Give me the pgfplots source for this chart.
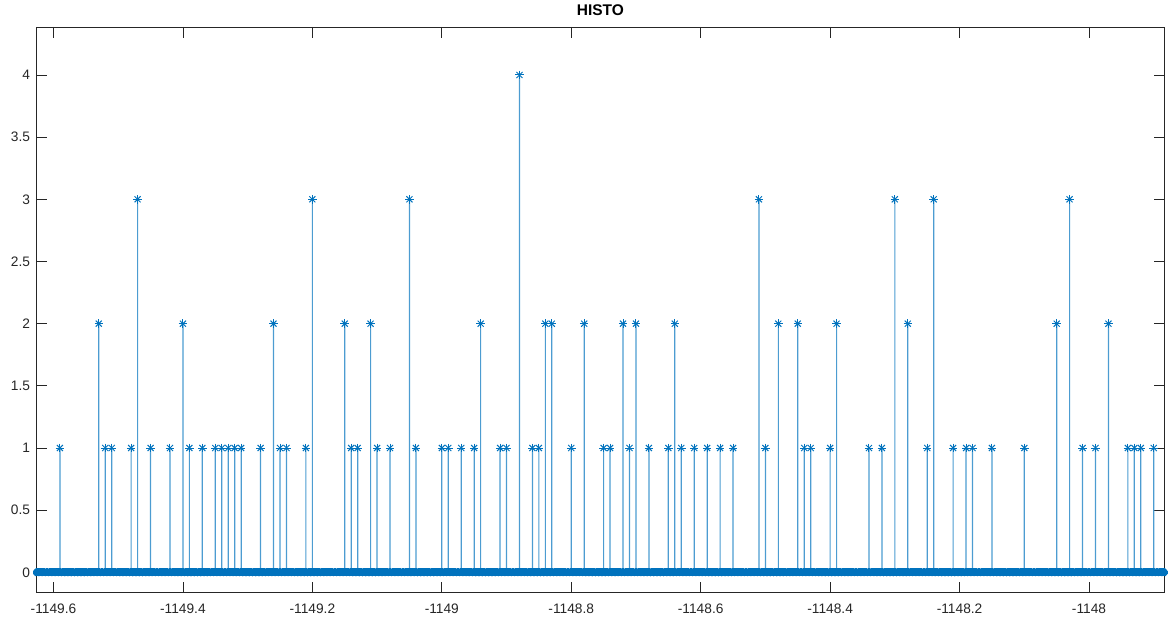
\documentclass[border=0pt]{standalone}
\usepackage{pgfplots}
\usepackage{pgfplotstable}
\pgfplotsset{compat=1.18}
\usepackage{fontspec}
\setmainfont{Liberation Sans}
\definecolor{mblue}{RGB}{0,114,189}
\definecolor{axcol}{RGB}{38,38,38}

\pgfplotstableread{
x y
-1149.59 1
-1149.53 2
-1149.52 1
-1149.51 1
-1149.48 1
-1149.47 3
-1149.45 1
-1149.42 1
-1149.40 2
-1149.39 1
-1149.37 1
-1149.35 1
-1149.34 1
-1149.33 1
-1149.32 1
-1149.31 1
-1149.28 1
-1149.26 2
-1149.25 1
-1149.24 1
-1149.21 1
-1149.20 3
-1149.15 2
-1149.14 1
-1149.13 1
-1149.11 2
-1149.10 1
-1149.08 1
-1149.05 3
-1149.04 1
-1149.00 1
-1148.99 1
-1148.97 1
-1148.95 1
-1148.94 2
-1148.91 1
-1148.90 1
-1148.88 4
-1148.86 1
-1148.85 1
-1148.84 2
-1148.83 2
-1148.80 1
-1148.78 2
-1148.75 1
-1148.74 1
-1148.72 2
-1148.71 1
-1148.70 2
-1148.68 1
-1148.65 1
-1148.64 2
-1148.63 1
-1148.61 1
-1148.59 1
-1148.57 1
-1148.55 1
-1148.51 3
-1148.50 1
-1148.48 2
-1148.45 2
-1148.44 1
-1148.43 1
-1148.40 1
-1148.39 2
-1148.34 1
-1148.32 1
-1148.30 3
-1148.28 2
-1148.25 1
-1148.24 3
-1148.21 1
-1148.19 1
-1148.18 1
-1148.15 1
-1148.10 1
-1148.05 2
-1148.03 3
-1148.01 1
-1147.99 1
-1147.97 2
-1147.94 1
-1147.93 1
-1147.92 1
-1147.90 1
}\stems

\pgfplotstableread[row sep=\\]{
x y\\
-1149.625 0\\ -1149.620 0\\ -1149.615 0\\ -1149.610 0\\ -1149.605 0\\ -1149.600 0\\
-1149.595 0\\ -1149.590 0\\ -1149.585 0\\ -1149.580 0\\ -1149.575 0\\ -1149.570 0\\ -1149.565 0\\ -1149.560 0\\ -1149.555 0\\ -1149.550 0\\
-1149.545 0\\ -1149.540 0\\ -1149.535 0\\ -1149.530 0\\ -1149.525 0\\ -1149.520 0\\ -1149.515 0\\ -1149.510 0\\ -1149.505 0\\ -1149.500 0\\
-1149.495 0\\ -1149.490 0\\ -1149.485 0\\ -1149.480 0\\ -1149.475 0\\ -1149.470 0\\ -1149.465 0\\ -1149.460 0\\ -1149.455 0\\ -1149.450 0\\
-1149.445 0\\ -1149.440 0\\ -1149.435 0\\ -1149.430 0\\ -1149.425 0\\ -1149.420 0\\ -1149.415 0\\ -1149.410 0\\ -1149.405 0\\ -1149.400 0\\
-1149.395 0\\ -1149.390 0\\ -1149.385 0\\ -1149.380 0\\ -1149.375 0\\ -1149.370 0\\ -1149.365 0\\ -1149.360 0\\ -1149.355 0\\ -1149.350 0\\
-1149.345 0\\ -1149.340 0\\ -1149.335 0\\ -1149.330 0\\ -1149.325 0\\ -1149.320 0\\ -1149.315 0\\ -1149.310 0\\ -1149.305 0\\ -1149.300 0\\
-1149.295 0\\ -1149.290 0\\ -1149.285 0\\ -1149.280 0\\ -1149.275 0\\ -1149.270 0\\ -1149.265 0\\ -1149.260 0\\ -1149.255 0\\ -1149.250 0\\
-1149.245 0\\ -1149.240 0\\ -1149.235 0\\ -1149.230 0\\ -1149.225 0\\ -1149.220 0\\ -1149.215 0\\ -1149.210 0\\ -1149.205 0\\ -1149.200 0\\
-1149.195 0\\ -1149.190 0\\ -1149.185 0\\ -1149.180 0\\ -1149.175 0\\ -1149.170 0\\ -1149.165 0\\ -1149.160 0\\ -1149.155 0\\ -1149.150 0\\
-1149.145 0\\ -1149.140 0\\ -1149.135 0\\ -1149.130 0\\ -1149.125 0\\ -1149.120 0\\ -1149.115 0\\ -1149.110 0\\ -1149.105 0\\ -1149.100 0\\
-1149.095 0\\ -1149.090 0\\ -1149.085 0\\ -1149.080 0\\ -1149.075 0\\ -1149.070 0\\ -1149.065 0\\ -1149.060 0\\ -1149.055 0\\ -1149.050 0\\
-1149.045 0\\ -1149.040 0\\ -1149.035 0\\ -1149.030 0\\ -1149.025 0\\ -1149.020 0\\ -1149.015 0\\ -1149.010 0\\ -1149.005 0\\ -1149.000 0\\
-1148.995 0\\ -1148.990 0\\ -1148.985 0\\ -1148.980 0\\ -1148.975 0\\ -1148.970 0\\ -1148.965 0\\ -1148.960 0\\ -1148.955 0\\ -1148.950 0\\
-1148.945 0\\ -1148.940 0\\ -1148.935 0\\ -1148.930 0\\ -1148.925 0\\ -1148.920 0\\ -1148.915 0\\ -1148.910 0\\ -1148.905 0\\ -1148.900 0\\
-1148.895 0\\ -1148.890 0\\ -1148.885 0\\ -1148.880 0\\ -1148.875 0\\ -1148.870 0\\ -1148.865 0\\ -1148.860 0\\ -1148.855 0\\ -1148.850 0\\
-1148.845 0\\ -1148.840 0\\ -1148.835 0\\ -1148.830 0\\ -1148.825 0\\ -1148.820 0\\ -1148.815 0\\ -1148.810 0\\ -1148.805 0\\ -1148.800 0\\
-1148.795 0\\ -1148.790 0\\ -1148.785 0\\ -1148.780 0\\ -1148.775 0\\ -1148.770 0\\ -1148.765 0\\ -1148.760 0\\ -1148.755 0\\ -1148.750 0\\
-1148.745 0\\ -1148.740 0\\ -1148.735 0\\ -1148.730 0\\ -1148.725 0\\ -1148.720 0\\ -1148.715 0\\ -1148.710 0\\ -1148.705 0\\ -1148.700 0\\
-1148.695 0\\ -1148.690 0\\ -1148.685 0\\ -1148.680 0\\ -1148.675 0\\ -1148.670 0\\ -1148.665 0\\ -1148.660 0\\ -1148.655 0\\ -1148.650 0\\
-1148.645 0\\ -1148.640 0\\ -1148.635 0\\ -1148.630 0\\ -1148.625 0\\ -1148.620 0\\ -1148.615 0\\ -1148.610 0\\ -1148.605 0\\ -1148.600 0\\
-1148.595 0\\ -1148.590 0\\ -1148.585 0\\ -1148.580 0\\ -1148.575 0\\ -1148.570 0\\ -1148.565 0\\ -1148.560 0\\ -1148.555 0\\ -1148.550 0\\
-1148.545 0\\ -1148.540 0\\ -1148.535 0\\ -1148.530 0\\ -1148.525 0\\ -1148.520 0\\ -1148.515 0\\ -1148.510 0\\ -1148.505 0\\ -1148.500 0\\
-1148.495 0\\ -1148.490 0\\ -1148.485 0\\ -1148.480 0\\ -1148.475 0\\ -1148.470 0\\ -1148.465 0\\ -1148.460 0\\ -1148.455 0\\ -1148.450 0\\
-1148.445 0\\ -1148.440 0\\ -1148.435 0\\ -1148.430 0\\ -1148.425 0\\ -1148.420 0\\ -1148.415 0\\ -1148.410 0\\ -1148.405 0\\ -1148.400 0\\
-1148.395 0\\ -1148.390 0\\ -1148.385 0\\ -1148.380 0\\ -1148.375 0\\ -1148.370 0\\ -1148.365 0\\ -1148.360 0\\ -1148.355 0\\ -1148.350 0\\
-1148.345 0\\ -1148.340 0\\ -1148.335 0\\ -1148.330 0\\ -1148.325 0\\ -1148.320 0\\ -1148.315 0\\ -1148.310 0\\ -1148.305 0\\ -1148.300 0\\
-1148.295 0\\ -1148.290 0\\ -1148.285 0\\ -1148.280 0\\ -1148.275 0\\ -1148.270 0\\ -1148.265 0\\ -1148.260 0\\ -1148.255 0\\ -1148.250 0\\
-1148.245 0\\ -1148.240 0\\ -1148.235 0\\ -1148.230 0\\ -1148.225 0\\ -1148.220 0\\ -1148.215 0\\ -1148.210 0\\ -1148.205 0\\ -1148.200 0\\
-1148.195 0\\ -1148.190 0\\ -1148.185 0\\ -1148.180 0\\ -1148.175 0\\ -1148.170 0\\ -1148.165 0\\ -1148.160 0\\ -1148.155 0\\ -1148.150 0\\
-1148.145 0\\ -1148.140 0\\ -1148.135 0\\ -1148.130 0\\ -1148.125 0\\ -1148.120 0\\ -1148.115 0\\ -1148.110 0\\ -1148.105 0\\ -1148.100 0\\
-1148.095 0\\ -1148.090 0\\ -1148.085 0\\ -1148.080 0\\ -1148.075 0\\ -1148.070 0\\ -1148.065 0\\ -1148.060 0\\ -1148.055 0\\ -1148.050 0\\
-1148.045 0\\ -1148.040 0\\ -1148.035 0\\ -1148.030 0\\ -1148.025 0\\ -1148.020 0\\ -1148.015 0\\ -1148.010 0\\ -1148.005 0\\ -1148.000 0\\
-1147.995 0\\ -1147.990 0\\ -1147.985 0\\ -1147.980 0\\ -1147.975 0\\ -1147.970 0\\ -1147.965 0\\ -1147.960 0\\ -1147.955 0\\ -1147.950 0\\
-1147.945 0\\ -1147.940 0\\ -1147.935 0\\ -1147.930 0\\ -1147.925 0\\ -1147.920 0\\ -1147.915 0\\ -1147.910 0\\ -1147.905 0\\ -1147.900 0\\
-1147.895 0\\ -1147.890 0\\ -1147.885 0\\
}\zeros

\begin{document}
\begin{tikzpicture}
\useasboundingbox (-27pt,-20.8pt) rectangle (851.2pt,444.25pt);
\begin{axis}[
  scale only axis,
  width=846.5pt, height=424pt,
  xmin=-1149.627, xmax=-1147.883,
  ymin=-0.161, ymax=4.386,
  clip=false,
  scaled x ticks=false,
  xtick={-1149.6,-1149.4,-1149.2,-1149,-1148.8,-1148.6,-1148.4,-1148.2,-1148},
  xticklabels={-1149.6,-1149.4,-1149.2,-1149,-1148.8,-1148.6,-1148.4,-1148.2,-1148},
  ytick={0,0.5,1,1.5,2,2.5,3,3.5,4},
  yticklabels={0,0.5,1,1.5,2,2.5,3,3.5,4},
  tick align=inside,
  major tick length=8pt,
  axis line style={color=axcol, line width=0.6pt},
  tick style={color=axcol, line width=0.6pt},
  ticklabel style={font=\fontsize{10.3pt}{12pt}\selectfont, text=axcol},
  xticklabel style={yshift=-5.5pt},
  yticklabel style={xshift=-1pt},
  title={\bfseries HISTO},
  title style={font=\fontsize{11.6pt}{13pt}\selectfont, text=black, yshift=-1pt},
]
\addplot[ybar, bar width=0.9pt, bar shift=0pt, fill=mblue!70, draw=none] table[x=x,y=y] {\stems};
\addplot[only marks, mark=+, mark size=3.2pt, mark options={line width=0.75pt}, color=mblue] table[x=x,y=y] {\stems};
\addplot[only marks, mark=x, mark size=3.2pt, mark options={line width=0.75pt}, color=mblue] table[x=x,y=y] {\stems};
\addplot[only marks, mark=+, mark size=3.1pt, mark options={line width=2.2pt}, color=mblue] table[x=x,y=y] {\zeros};
\addplot[only marks, mark=x, mark size=3.1pt, mark options={line width=2.2pt}, color=mblue] table[x=x,y=y] {\zeros};
\end{axis}
\end{tikzpicture}
\end{document}
